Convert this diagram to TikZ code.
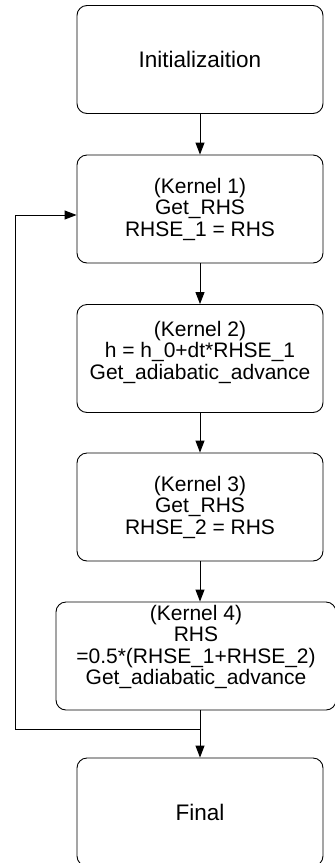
\documentclass[tikz,border=0pt]{standalone}
\usepackage{fontspec}
\setmainfont{Liberation Sans}
\usetikzlibrary{arrows.meta}
\begin{document}
\begin{tikzpicture}[x=1pt,y=-1pt,
  box/.style={draw, line width=0.9pt, rounded corners=10pt, minimum width=246pt, minimum height=108pt, inner sep=0pt},
  txt/.style={align=center, font=\fontsize{21}{21.5}\selectfont, inner sep=0pt},
  big/.style={font=\fontsize{22.5}{26}\selectfont},
  arr/.style={line width=0.9pt, -{Triangle[length=12pt,width=9pt]}},
  lin/.style={line width=0.9pt}]
\useasboundingbox (0,0) rectangle (335,863);
\node[box,big] (b1) at (200,59.5) {Initializaition};
\node[box,txt,minimum width=246pt,minimum height=108pt] (b2) at (200,209) {(Kernel 1)\\Get\_RHS\\RHSE\_1 = RHS};
\node[box] (b3) at (200,358.5) {};
\node[txt] (t3) at (200,352) {(Kernel 2)\\h = h\_0+dt*RHSE\_1\\Get\_adiabatic\_advance};
\node[box,txt,minimum width=246pt,minimum height=108pt] (b4) at (200,507) {(Kernel 3)\\Get\_RHS\\RHSE\_2 = RHS};
\node[box,minimum width=280pt] (b5) at (196,656) {};
\node[txt] (t5) at (196,647) {(Kernel 4)\\RHS\\=0.5*(RHSE\_1+RHSE\_2)\\Get\_adiabatic\_advance};
\node[box,big] (b6) at (200,812) {Final};
\coordinate (j) at (200,729);
\coordinate (lp) at (15,729);
\coordinate (lq) at (15,215);
\draw[arr] (b1) -- (b2);
\draw[arr] (b2) -- (b3);
\draw[arr] (b3) -- (b4);
\draw[arr] (b4.south) -- (b4.south |- b5.north);
\draw[arr] (b6.north |- b5.south) -- (b6.north);
\draw[arr] (j) -- (lp) -- (lq) -- (lq -| b2.west);
\end{tikzpicture}
\end{document}
